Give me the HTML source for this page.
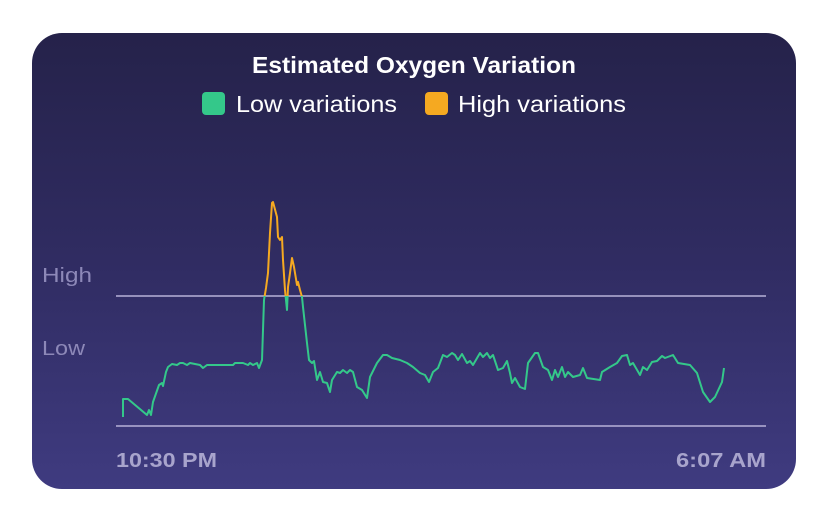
<!DOCTYPE html>
<html><head><meta charset="utf-8"><style>
html,body{margin:0;padding:0;background:#fff;width:824px;height:527px;overflow:hidden}
.card{position:absolute;left:32px;top:33px;width:764px;height:456px;border-radius:30px;background:linear-gradient(180deg,#25224a 0%,#302c62 50%,#3f3b80 100%);}
svg{position:absolute;left:0;top:0}
</style></head><body>
<div class="card"></div>
<svg width="824" height="527" xmlns="http://www.w3.org/2000/svg" font-family="Liberation Sans, sans-serif">
<text x="252" y="73" textLength="324" lengthAdjust="spacingAndGlyphs" fill="#fff" font-size="23" font-weight="bold">Estimated Oxygen Variation</text>
<rect x="202" y="92" width="23" height="23" rx="4" fill="#34c88a"/>
<text x="236" y="112" textLength="161" lengthAdjust="spacingAndGlyphs" fill="#fff" font-size="23">Low variations</text>
<rect x="425" y="92" width="23" height="23" rx="4" fill="#f5a921"/>
<text x="458" y="112" textLength="168" lengthAdjust="spacingAndGlyphs" fill="#fff" font-size="23">High variations</text>
<text x="42" y="282" textLength="50" lengthAdjust="spacingAndGlyphs" fill="#8d88b8" font-size="20">High</text>
<text x="42" y="355" textLength="43" lengthAdjust="spacingAndGlyphs" fill="#8d88b8" font-size="20">Low</text>
<line x1="116" y1="296" x2="766" y2="296" stroke="#b8b2d8" stroke-width="1.5"/>
<line x1="116" y1="426" x2="766" y2="426" stroke="#b8b2d8" stroke-width="1.5"/>
<text x="116" y="467" textLength="101" lengthAdjust="spacingAndGlyphs" fill="#a8a4cc" font-size="20" font-weight="bold">10:30 PM</text>
<text x="676" y="467" textLength="90" lengthAdjust="spacingAndGlyphs" fill="#a8a4cc" font-size="20" font-weight="bold">6:07 AM</text>
<defs>
<clipPath id="hi"><rect x="0" y="0" width="824" height="296"/></clipPath>
<clipPath id="lo"><rect x="0" y="296" width="824" height="300"/></clipPath>
</defs>
<g fill="none" stroke-width="2" stroke-linejoin="round">
<polyline clip-path="url(#lo)" stroke="#34c88a" points="123,417 123,399 128,399 147,415 149,410 151,415 153,402 159,385 162,383 163,386 166,372 168,367 172,364 177,365 180,363 183,363 187,365 190,363 200,365 203,368 207,365 233,365 235,363 243,363 248,365 250,363 253,365 257,363 259,368 262,360 264,300 266,288 268,273 270,233 272,203 273,202 277,217 278,237 280,240 282,237 283,260 285,290 287,310 288,287 290,273 292,258 294,267 297,285 298,282 300,290 302,297 303,307 307,343 309,360 312,363 314,361 317,380 320,372 323,382 327,383 330,392 332,380 337,372 340,373 343,370 347,373 350,370 353,372 357,387 362,390 367,398 370,377 377,363 383,355 387,355 392,358 400,360 407,363 413,367 420,373 425,375 429,382 433,372 438,368 443,355 447,357 452,353 455,355 458,360 462,354 467,363 470,361 473,365 480,353 483,357 487,353 490,358 493,355 498,370 503,368 507,361 510,373 512,383 515,378 520,387 525,389 528,363 535,353 538,353 543,367 548,370 552,380 555,370 558,377 562,367 565,377 568,372 573,377 580,375 583,368 587,378 600,380 602,372 610,367 617,363 622,356 627,355 630,365 633,363 640,375 643,367 647,370 652,362 657,361 662,356 665,358 673,355 678,363 690,365 697,373 703,392 710,402 715,397 722,382 724,368"/>
<polyline clip-path="url(#hi)" stroke="#f5a921" points="262,360 264,300 266,288 268,273 270,233 272,203 273,202 277,217 278,237 280,240 282,237 283,260 285,290 287,310 288,287 290,273 292,258 294,267 297,285 298,282 300,290 302,297 303,307"/>
</g>
</svg>
</body></html>
